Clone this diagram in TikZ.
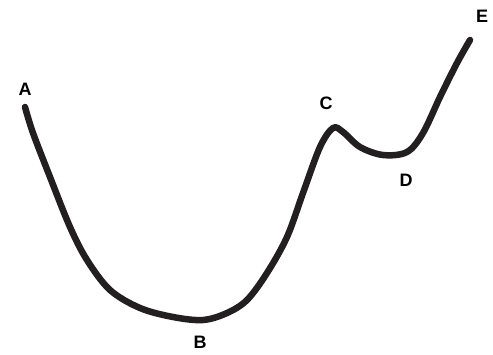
\documentclass[tikz,border=0pt]{standalone}
\usepackage{fontspec}
\setmainfont{Liberation Sans}
\begin{document}
\begin{tikzpicture}[x=1pt,y=-1pt,
  lbl/.style={font=\fontsize{18}{20}\selectfont\bfseries, text=black, inner sep=0pt},
  curve/.style={line width=6.5pt, line cap=round, line join=round, color={rgb,255:red,35;green,31;blue,32}}]
\useasboundingbox (0,0) rectangle (493,354);
\draw[curve] plot[smooth, tension=0.55] coordinates {
  (25,107) (33,133) (50,177) (70,227) (87,260) (110,290) (140,308) (173,317) (203,320) (227,313) (247,300) (267,273) (287,237) (303,193) (320,147) (333,128) (343,132) (360,147) (383,155) (407,152) (423,133) (440,97) (457,63) (470,40)};
\node[lbl] (A) at (25,89) {A};
\node[lbl] (B) at (200,342) {B};
\node[lbl] (C) at (326,103) {C};
\node[lbl] (D) at (406,180) {D};
\node[lbl] (E) at (482,16) {E};
\end{tikzpicture}
\end{document}
